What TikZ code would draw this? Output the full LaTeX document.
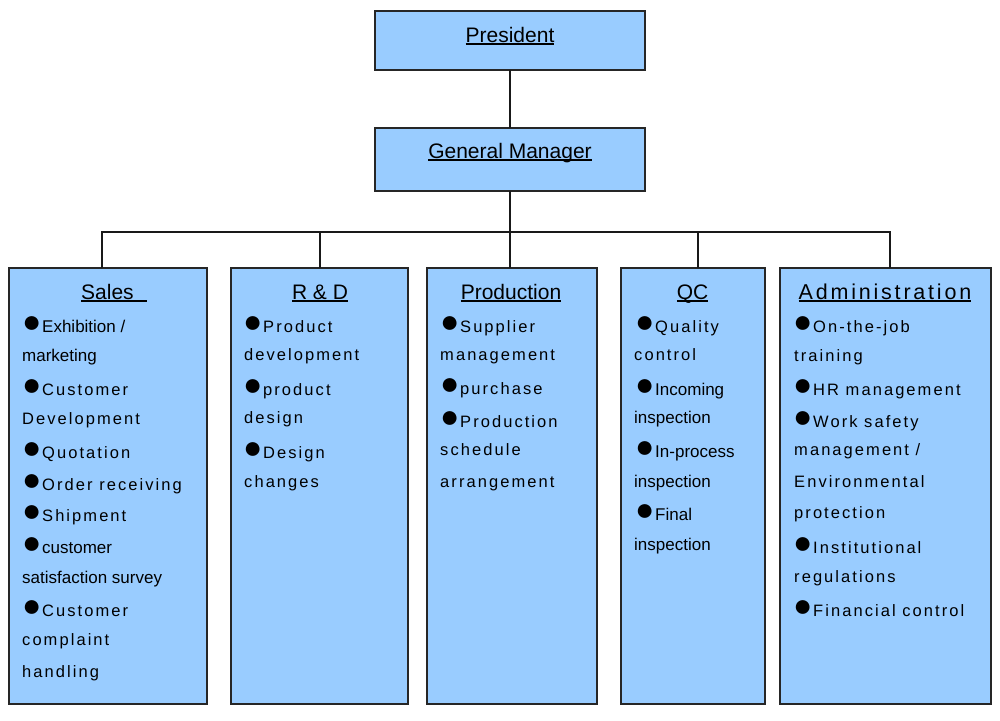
\documentclass[tikz,border=0pt]{standalone}
\usepackage{fontspec}
\setmainfont{Liberation Sans}
\newfontfamily\lsfont[LetterSpace=12.5]{Liberation Sans}
\newfontfamily\lstitle[LetterSpace=13]{Liberation Sans}
\newcommand\uln[1]{\leavevmode\setbox0\hbox{#1}\rlap{\rule[-2.5pt]{\wd0}{1.2pt}}\box0}
\newcommand\bul{\makebox[18pt][l]{\hspace{-2pt}\raisebox{-0.5pt}[10pt][0pt]{\fontsize{32}{32}\selectfont ●}}}
\definecolor{boxblue}{RGB}{153,204,255}
\tikzset{
  box/.style={draw=black!85, line width=1.4pt, fill=boxblue, inner sep=0, outer sep=0},
  body/.style={anchor=base west, inner sep=0, font=\fontsize{16.5}{18}\lsfont},
  plain/.style={anchor=base west, inner sep=0, font=\fontsize{17}{19}\selectfont},
  title/.style={anchor=base, inner sep=0, font=\fontsize{21}{24}\selectfont},
  link/.style={line width=1.2pt, draw=black!90}
}
\begin{document}
\begin{tikzpicture}[x=1pt,y=-1pt]
\useasboundingbox (0,0) rectangle (1000,720);
% boxes
\node[box, minimum width=270, minimum height=59] (pres) at (510,40.5) {};
\node[box, minimum width=270, minimum height=63] (gm) at (510,159.5) {};
\node[box, minimum width=198, minimum height=436] (sales) at (108,486) {};
\node[box, minimum width=177, minimum height=436] (rd) at (319.5,486) {};
\node[box, minimum width=170, minimum height=436] (prod) at (512,486) {};
\node[box, minimum width=144, minimum height=436] (qc) at (693,486) {};
\node[box, minimum width=211, minimum height=436] (adm) at (885.5,486) {};
% connectors
\coordinate (bus) at (510,232);
\coordinate (xs) at (102,0);
\coordinate (xr) at (320,0);
\coordinate (xp) at (510,0);
\coordinate (xq) at (698,0);
\coordinate (xa) at (890,0);
\draw[link] (pres.south) -- (gm.north);
\draw[link] (gm.south) -- (xp |- prod.north);
\draw[link] (xs |- sales.north) -- (xs |- bus) -- (xa |- bus) -- (xa |- adm.north);
\draw[link] (xr |- rd.north) -- (xr |- bus);
\draw[link] (xq |- qc.north) -- (xq |- bus);
% titles
\node[title] (tpres) at (510,42) {\uln{President}};
\node[title] (tgm) at (510,158) {\uln{General Manager}};
\node[title, anchor=base west] (tsales) at (81,299) {\uln{Sales\hspace{13pt}}};
\node[title] (trd) at (320,299) {\uln{R \& D}};
\node[title] (tprod) at (511,299) {\uln{Production}};
\node[title] (tqc) at (692.5,299) {\uln{QC}};
\node[title, font=\fontsize{21.5}{24}\lstitle] (tadm) at (885,299) {\uln{Administration}};
% Sales
\node[plain] (s1) at (24,332) {\bul Exhibition /};
\node[plain] (s2) at (22,361) {marketing};
\node[body] (s3) at (24,395) {\bul Customer};
\node[body] (s4) at (22,424) {Development};
\node[body] (s5) at (24,458) {\bul Quotation};
\node[body] (s6) at (24,490) {\bul Order receiving};
\node[body] (s7) at (24,521) {\bul Shipment};
\node[plain] (s8) at (24,553) {\bul customer};
\node[plain] (s9) at (22,583) {satisfaction survey};
\node[body] (s10) at (24,616) {\bul Customer};
\node[body] (s11) at (22,645) {complaint};
\node[body] (s12) at (22,677) {handling};
% R&D
\node[body] (r1) at (245,332) {\bul Product};
\node[body] (r2) at (244,360) {development};
\node[body] (r3) at (245,395) {\bul product};
\node[body] (r4) at (244,423) {design};
\node[body] (r5) at (245,458) {\bul Design};
\node[body] (r6) at (244,487) {changes};
% Production
\node[body] (p1) at (442,332) {\bul Supplier};
\node[body] (p2) at (440,360) {management};
\node[body] (p3) at (442,394) {\bul purchase};
\node[body] (p4) at (442,427) {\bul Production};
\node[body] (p5) at (440,455) {schedule};
\node[body] (p6) at (440,487) {arrangement};
% QC
\node[body] (q1) at (637,332) {\bul Quality};
\node[body] (q2) at (634,360) {control};
\node[plain] (q3) at (637,395) {\bul Incoming};
\node[plain] (q4) at (634,423) {inspection};
\node[plain] (q5) at (637,457) {\bul In-process};
\node[plain] (q6) at (634,487) {inspection};
\node[plain] (q7) at (637,520) {\bul Final};
\node[plain] (q8) at (634,550) {inspection};
% Administration
\node[body] (a1) at (795,332) {\bul On-the-job};
\node[body] (a2) at (794,361) {training};
\node[body] (a3) at (795,395) {\bul HR management};
\node[body] (a4) at (795,427) {\bul Work safety};
\node[body] (a5) at (794,455) {management /};
\node[body] (a6) at (794,487) {Environmental};
\node[body] (a7) at (794,518) {protection};
\node[body] (a8) at (795,553) {\bul Institutional};
\node[body] (a9) at (794,582) {regulations};
\node[body] (a10) at (795,616) {\bul Financial control};
\end{tikzpicture}
\end{document}
